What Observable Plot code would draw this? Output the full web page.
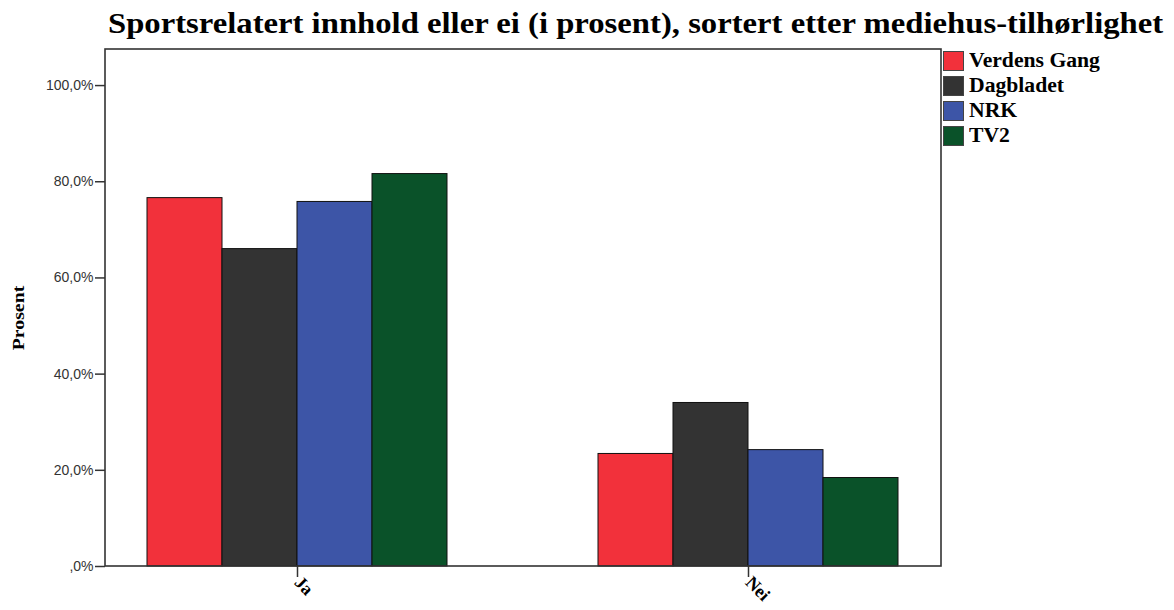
<!DOCTYPE html>
<html><head><meta charset="utf-8">
<script src="https://cdn.jsdelivr.net/npm/d3@7"></script>
<script src="https://cdn.jsdelivr.net/npm/@observablehq/plot@0.6"></script>
<style>
body{margin:0;background:#fff;}
#wrap{position:relative;width:1174px;height:610px;overflow:hidden;background:#fff;}
#title{position:absolute;left:108px;top:0;height:44px;font-family:"Liberation Serif",serif;font-weight:bold;font-size:29px;line-height:46px;white-space:nowrap;color:#000;transform-origin:0 50%;}
#chart{position:absolute;left:0;top:44px;}
#legend{position:absolute;left:943px;top:48px;font-family:"Liberation Serif",serif;font-weight:bold;font-size:20px;color:#000;}
.row{display:flex;align-items:center;height:25px;}
.sw{width:19px;height:18px;border:1px solid #444;margin-right:5px;box-sizing:content-box;flex:none;}
.lbl{white-space:nowrap;display:inline-block;transform-origin:0 50%;}
#ylabel{position:absolute;left:19px;top:318px;font-family:"Liberation Serif",serif;font-weight:bold;font-size:17px;white-space:nowrap;}
</style>
</head><body>
<div id="wrap">
<div id="title">Sportsrelatert innhold eller ei (i prosent), sortert etter mediehus-tilhørlighet</div>
<div id="chart"></div>
<div id="ylabel">Prosent</div>
<div id="legend"></div>
</div>
<script>
const answers = ["Ja", "Nei"];
const media = ["Verdens Gang", "Dagbladet", "NRK", "TV2"];
const vgValues = [76.6, 23.4];
const dbValues = [66.0, 34.0];
const nrkValues = [75.8, 24.2];
const tv2Values = [81.6, 18.4];
const colors = ["#f2313b", "#333333", "#3d55a7", "#0a5229"];
const yTicks = [0, 20, 40, 60, 80, 100];

const series = [vgValues, dbValues, nrkValues, tv2Values];
const table = [];
answers.forEach((a, i) => media.forEach((m, j) => table.push({answer: a, media: m, value: series[j][i]})));

const fmt = d => d === 0 ? ",0%" : d.toFixed(1).replace(".", ",") + "%";

const chart = Plot.plot({
  width: 1174, height: 566,
  marginLeft: 105, marginRight: 233, marginTop: 5, marginBottom: 44,
  style: {fontFamily: "Liberation Sans", fontSize: "14px", color: "#333", background: "transparent", overflow: "visible"},
  fx: {domain: answers, paddingInner: 0.148, paddingOuter: 0, label: null, axis: null},
  x: {domain: media, paddingInner: 0, paddingOuter: 0.556, axis: null},
  y: {domain: [0, 107.5], axis: null},
  color: {domain: media, range: colors},
  marks: [
    Plot.barY(table, {fx: "answer", x: "media", y: "value", fill: "media", stroke: "#111", strokeWidth: 1}),
    Plot.axisY({ticks: yTicks, tickSize: 10, tickPadding: 2, tickFormat: fmt, label: null, fontSize: 14, fill: "#333", stroke: "#333", strokeWidth: 1.5}),
    Plot.axisFx({anchor: "bottom", tickSize: 11, tickPadding: 2, tickRotate: 45, label: null, fontFamily: "Liberation Serif", fontWeight: "bold", fontSize: 18, fill: "#000", stroke: "#333", strokeWidth: 1.5})
  ]
});
document.getElementById("chart").appendChild(chart);

// outer frame spanning both facets, from the plot's own scales
const fxr = chart.scale("fx").range, yr = chart.scale("y").range;
const svg = d3.select(chart.tagName.toLowerCase() === "svg" ? chart : chart.querySelector("svg"));
svg.append("rect")
  .attr("x", Math.min(...fxr)).attr("y", Math.min(...yr))
  .attr("width", Math.abs(fxr[1] - fxr[0])).attr("height", Math.abs(yr[0] - yr[1]))
  .attr("fill", "none").attr("stroke", "#333").attr("stroke-width", 1.6);

const leg = document.getElementById("legend");
media.forEach((m, i) => {
  const r = document.createElement("div"); r.className = "row";
  const s = document.createElement("div"); s.className = "sw"; s.style.background = colors[i];
  const t = document.createElement("span"); t.className = "lbl"; t.textContent = m;
  r.appendChild(s); r.appendChild(t); leg.appendChild(r);
});

// stretch glyphs horizontally to match the reference widths
const title = document.getElementById("title");
title.style.transform = `scaleX(${1055 / title.offsetWidth})`;
const firstLbl = leg.querySelector(".lbl");
const sx = 131 / firstLbl.offsetWidth;
leg.querySelectorAll(".lbl").forEach(e => e.style.transform = `scaleX(${sx})`);
const yl = document.getElementById("ylabel");
const ys = 64 / yl.offsetWidth;
yl.style.transform = `translate(-50%,-50%) rotate(-90deg) scaleX(${ys})`;
</script>
</body></html>
